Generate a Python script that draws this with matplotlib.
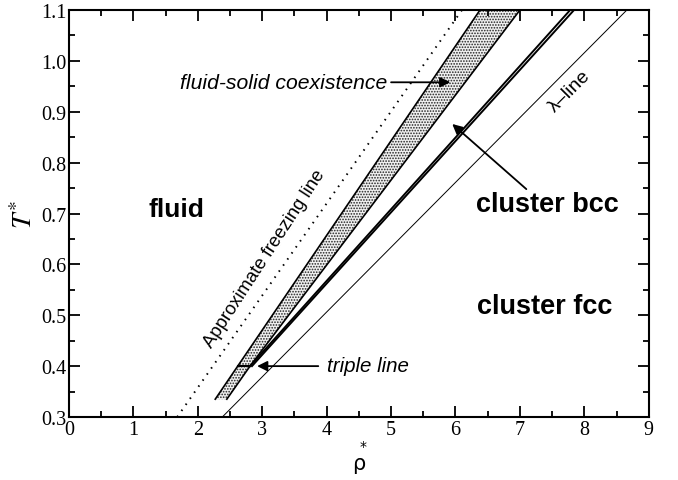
import matplotlib
matplotlib.use("Agg")
import matplotlib.pyplot as plt
from matplotlib.ticker import MultipleLocator

plt.rcParams['hatch.linewidth'] = 0.8
plt.rcParams['mathtext.fontset'] = 'stix'

# ---- data ----
freeze_rho = [1.68, 6.10]
freeze_T = [0.30, 1.10]

fluid_side_rho = [2.27, 6.38]          # left coexistence boundary
fluid_side_T = [0.335, 1.10]

fcc_side_rho = [2.45, 2.81]            # solid boundary below triple line
fcc_side_T = [0.335, 0.40]
bcc_side_rho = [2.81, 7.00]            # solid boundary above triple line
bcc_side_T = [0.40, 1.10]

bccfcc_a_rho = [2.81, 7.78]            # bcc-fcc boundary (double line)
bccfcc_b_rho = [2.84, 7.84]
bccfcc_T = [0.40, 1.10]

lambda_rho = [2.38, 8.66]
lambda_T = [0.30, 1.10]

triple_rho = [2.62, 2.81]
triple_T = 0.40

xticks = [0, 1, 2, 3, 4, 5, 6, 7, 8, 9]
yticks = [0.3, 0.4, 0.5, 0.6, 0.7, 0.8, 0.9, 1.0, 1.1]
ytick_labels = ['0.3', '0.4', '0.5', '0.6', '0.7', '0.8', '0.9', '1.0', '1.1']

fig = plt.figure(figsize=(6.78, 4.81), dpi=100)
ax = fig.add_axes([0.1018, 0.131, 0.855, 0.846])
ax.set_xlim(0, 9)
ax.set_ylim(0.3, 1.1)

# shaded coexistence region
poly_x = fluid_side_rho + [bcc_side_rho[1], bcc_side_rho[0], fcc_side_rho[0]]
poly_y = fluid_side_T + [bcc_side_T[1], bcc_side_T[0], fcc_side_T[0]]
ax.fill(poly_x, poly_y, facecolor='#f0f0f0', edgecolor='#222222', hatch='......', lw=0)

k = 'black'
ax.plot(freeze_rho, freeze_T, color=k, lw=1.4, ls=(0, (0.8, 3.0)))
ax.plot(fluid_side_rho, fluid_side_T, color=k, lw=1.2)
ax.plot(fcc_side_rho, fcc_side_T, color=k, lw=1.2)
ax.plot(bcc_side_rho, bcc_side_T, color=k, lw=1.2)
ax.plot(bccfcc_a_rho, bccfcc_T, color=k, lw=1.4)
ax.plot(bccfcc_b_rho, bccfcc_T, color=k, lw=1.4)
ax.plot(lambda_rho, lambda_T, color=k, lw=0.7)
ax.plot(triple_rho, [triple_T, triple_T], color=k, lw=1.5)

sans = 'Liberation Sans'
ax.text(1.66, 0.709, 'fluid', fontsize=19, fontweight='bold', family=sans, ha='center', va='center')
ax.text(7.43, 0.718, 'cluster bcc', fontsize=19.5, fontweight='bold', family=sans, ha='center', va='center')
ax.text(7.38, 0.518, 'cluster fcc', fontsize=19.5, fontweight='bold', family=sans, ha='center', va='center')

ax.text(4.94, 0.958, 'fluid-solid coexistence', fontsize=15.2, style='italic', family=sans,
        ha='right', va='center')
ax.annotate('', xy=(5.92, 0.958), xytext=(5.00, 0.958),
            arrowprops=dict(arrowstyle='-|>', color=k, lw=1.3, mutation_scale=15, shrinkA=0, shrinkB=0))

ax.text(4.01, 0.402, 'triple line', fontsize=14.8, style='italic', family=sans, ha='left', va='center')
ax.annotate('', xy=(2.92, 0.40), xytext=(3.87, 0.40),
            arrowprops=dict(arrowstyle='-|>', color=k, lw=1.3, mutation_scale=15, shrinkA=0, shrinkB=0))

ax.annotate('', xy=(5.95, 0.876), xytext=(7.10, 0.748),
            arrowprops=dict(arrowstyle='-|>', color=k, lw=1.3, mutation_scale=15, shrinkA=0, shrinkB=0))

ax.text(3.03, 0.612, 'Approximate freezing line', fontsize=13.3, family=sans,
        rotation=57, ha='center', va='center', rotation_mode='anchor')
ax.text(7.77, 0.942, 'λ–line', fontsize=14, family=sans, rotation=45,
        ha='center', va='center', rotation_mode='anchor')

# axes styling
ax.set_xticks(xticks)
ax.set_yticks(yticks)
ax.set_yticklabels(ytick_labels)
ax.xaxis.set_minor_locator(MultipleLocator(0.5))
ax.yaxis.set_minor_locator(MultipleLocator(0.05))
ax.tick_params(which='both', direction='in', top=True, right=True, width=1.3, pad=2)
ax.tick_params(which='major', length=8)
ax.tick_params(which='minor', length=4)
for lab in ax.get_xticklabels() + ax.get_yticklabels():
    lab.set_fontfamily('Liberation Serif')
    lab.set_fontsize(14.5)
for s in ax.spines.values():
    s.set_linewidth(1.5)

ax.set_ylabel(r'$T^{*}$', fontsize=20, labelpad=2)
ax.set_xlabel('ρ', fontsize=15, family='DejaVu Sans', labelpad=10)
fig.text(363 / 678, 1 - 447 / 481, '*', fontsize=10, family='DejaVu Sans', ha='center', va='center')

fig.savefig('out.png', dpi=100)
